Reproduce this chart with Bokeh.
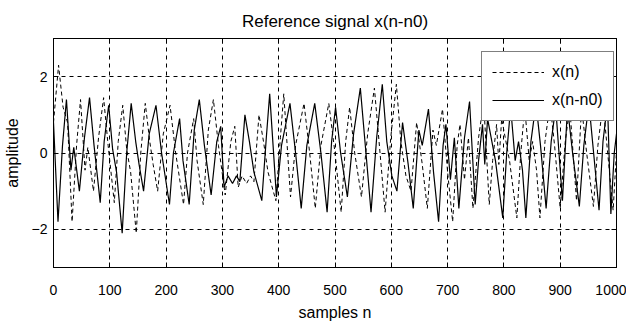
from bokeh.plotting import figure
from bokeh.models import Range1d, FixedTicker, LinearAxis, Legend, LegendItem, Title
from bokeh.embed import file_html
from bokeh.resources import INLINE

T_KEY = [-25, -16, -8, 0, 8, 16, 23, 31, 36, 46, 55, 64, 72, 83, 90, 98, 105, 112, 122, 130,
         138, 146, 152, 160, 170, 182, 192, 206, 213, 224, 230, 241, 250, 259, 268, 280, 290, 297, 303, 310,
         318, 325, 331, 340, 348, 356, 370, 378, 384, 390, 396, 405, 420, 430, 440, 450, 464, 475, 486, 494,
         501, 510, 522, 533, 545, 555, 564, 574, 584, 592, 601, 610, 620, 630, 639, 649, 655, 666, 675, 684,
         692, 697, 705, 712, 720, 730, 739, 749, 755, 762, 766, 771, 785, 798, 805, 812, 820, 826, 833, 839,
         848, 857, 865, 875, 884, 892, 904, 913, 922, 934, 942, 951, 960, 969, 976, 984, 990, 996, 1000]
V_KEY = [0.8, 2.3, 1.2, 0.8, -1.8, 0.2, 1.4, -0.45, 0.15, -1.0, 0.4, 1.45, 0.2, -1.3, 0.3, 1.25, 0.1, -0.5, -2.1, 0.0,
         1.3, 0.3, -0.3, -1.0, 0.5, 1.25, 0.0, -1.35, 0.0, 0.9, -0.2, -1.35, 0.6, 1.4, 0.2, -1.1, 0.3, 0.7, -0.9, -0.6,
         -0.8, -0.6, -0.75, 1.0, 0.3, -0.5, -1.25, 0.4, 1.55, 0.2, -1.15, 0.2, 1.3, 0.0, -1.45, 0.2, 1.3, 0.0, -1.55, 0.3,
         1.2, 0.0, -1.15, 0.5, 1.7, 0.0, -1.55, 0.4, 1.8, 0.3, -0.6, -1.0, 0.8, -0.3, -1.45, 0.6, 0.2, 1.15, -0.5, -1.8,
         0.2, 0.75, -0.7, 0.4, -1.45, 0.4, 1.35, -1.35, -0.2, 0.75, -0.3, 0.9, -0.2, -1.7, 0.0, 1.2, -0.2, 0.3, -0.45, -1.7,
         0.3, 1.3, 0.2, -1.45, 0.3, 1.2, -1.25, 1.2, 0.0, -1.4, 0.2, 1.3, -0.1, -1.5, 0.3, 1.3, -1.6, 0.0, 0.5]
SHIFT = 25  # delay between x(n) and x(n-n0) in samples

X_TICKS = [0, 100, 200, 300, 400, 500, 600, 700, 800, 900, 1000]
Y_TICKS = [-2, 0, 2]

FONT = "Liberation Sans"

p = figure(width=626, height=327, output_backend="svg", toolbar_location=None,
           x_range=Range1d(0, 1000), y_range=Range1d(-3, 3),
           min_border_left=53, min_border_right=10, min_border_top=38, min_border_bottom=60)

p.title = Title(text="Reference signal x(n-n0)", align="center", text_font=FONT,
                text_font_size="17px", text_font_style="normal", text_color="black", standoff=15)

dot_x = [t + SHIFT for t in T_KEY]
r_dot = p.line(dot_x, V_KEY, line_color="black", line_width=1, line_dash="4 3")
r_sol = p.line(T_KEY, V_KEY, line_color="black", line_width=1.2)

p.outline_line_color = "black"
p.outline_line_width = 1

for ax in (p.xaxis[0], p.yaxis[0]):
    ax.major_tick_in = 5
    ax.major_tick_out = 0
    ax.minor_tick_in = 0
    ax.minor_tick_out = 0
    ax.major_label_text_font = FONT
    ax.major_label_text_font_size = "14px"
    ax.major_label_text_color = "black"
    ax.axis_label_text_font = FONT
    ax.axis_label_text_font_size = "16px"
    ax.axis_label_text_font_style = "normal"
    ax.axis_label_text_color = "black"
    ax.axis_line_color = "black"
    ax.major_tick_line_color = "black"

p.xaxis[0].ticker = FixedTicker(ticks=X_TICKS)
p.yaxis[0].ticker = FixedTicker(ticks=Y_TICKS)
p.xaxis[0].axis_label = "samples n"
p.yaxis[0].axis_label = "amplitude"
p.xaxis[0].major_label_standoff = 17
p.yaxis[0].major_label_standoff = 6
p.xaxis[0].axis_label_standoff = 6
p.yaxis[0].axis_label_standoff = 8

top = LinearAxis(ticker=FixedTicker(ticks=X_TICKS), major_tick_in=5, major_tick_out=0,
                 minor_tick_in=0, minor_tick_out=0,
                 major_label_overrides={t: "" for t in X_TICKS}, major_label_standoff=0)
right = LinearAxis(ticker=FixedTicker(ticks=Y_TICKS), major_tick_in=5, major_tick_out=0,
                   minor_tick_in=0, minor_tick_out=0,
                   major_label_overrides={t: "" for t in Y_TICKS}, major_label_standoff=0)
p.add_layout(top, "above")
p.add_layout(right, "right")

p.xgrid.ticker = FixedTicker(ticks=X_TICKS)
p.ygrid.ticker = FixedTicker(ticks=Y_TICKS)
for g in (p.xgrid[0], p.ygrid[0]):
    g.grid_line_color = "black"
    g.grid_line_alpha = 1
    g.grid_line_dash = "4 4"
    g.grid_line_width = 1

legend = Legend(items=[LegendItem(label="x(n)", renderers=[r_dot]),
                       LegendItem(label="x(n-n0)", renderers=[r_sol])],
                location=(428, 146), orientation="vertical",
                label_text_font=FONT, label_text_font_size="16px", label_text_color="black",
                glyph_width=52, glyph_height=20, label_height=20, spacing=8, padding=10,
                label_standoff=8, border_line_color="black", border_line_width=1,
                background_fill_color="white", background_fill_alpha=1, margin=0)
p.add_layout(legend, "center")

open("out.html", "w").write(file_html(p, INLINE))
